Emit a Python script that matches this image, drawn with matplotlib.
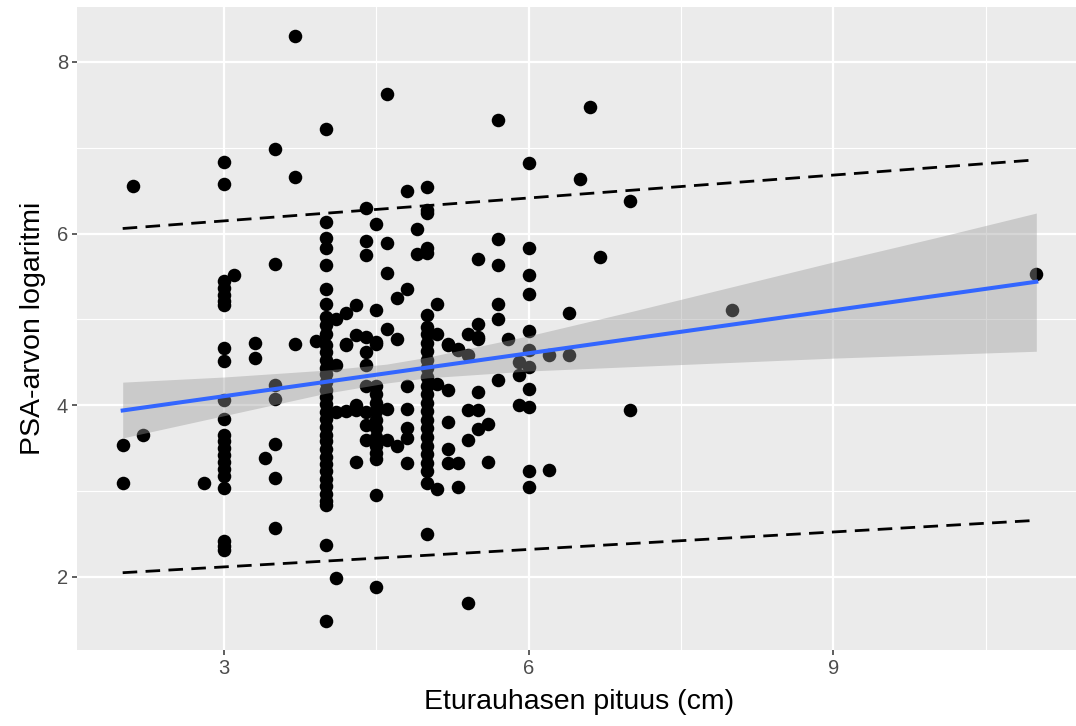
import numpy as np
import matplotlib
matplotlib.use('Agg')
import matplotlib.pyplot as plt
from matplotlib.ticker import FixedLocator

# eturauhasen pituus (cm) -> PSA-arvon logaritmi, grouped by x value
groups = {
    2.0: [3.54, 3.09],
    2.1: [6.56],
    2.2: [3.65],
    2.8: [3.10],
    3.0: [6.84, 6.58, 5.45, 5.37, 5.29, 5.21, 5.17, 4.67, 4.52, 4.06, 3.84,
          3.66, 3.58, 3.50, 3.42, 3.34, 3.26, 3.18, 3.04, 2.42, 2.36, 2.31],
    3.1: [5.52],
    3.3: [4.73, 4.55],
    3.4: [3.39],
    3.5: [6.99, 5.65, 4.24, 4.07, 3.55, 3.15, 2.57],
    3.7: [8.30, 6.66, 4.71],
    3.9: [4.75],
    4.0: [7.22, 6.13, 5.95, 5.83, 5.64, 5.35, 5.18, 5.03, 4.93, 4.83, 4.70,
          4.62, 4.53, 4.44, 4.36, 4.27, 4.18, 4.10, 4.01, 3.92, 3.84, 3.75,
          3.66, 3.58, 3.49, 3.40, 3.32, 3.23, 3.14, 3.06, 2.97, 2.89, 2.84,
          2.37, 1.49],
    4.1: [5.00, 4.47, 3.92, 1.99],
    4.2: [5.08, 4.72, 4.70, 3.93],
    4.3: [5.17, 4.82, 4.00, 3.95, 3.34],
    4.4: [6.30, 5.91, 5.75, 4.80, 4.62, 4.47, 4.23, 3.92, 3.77, 3.60],
    4.5: [6.11, 5.11, 4.74, 4.72, 4.23, 4.13, 4.03, 3.93, 3.83, 3.73, 3.63,
          3.53, 3.45, 3.37, 2.95, 1.88],
    4.6: [7.63, 5.89, 5.54, 4.89, 3.96, 3.60],
    4.7: [5.25, 4.77, 3.53],
    4.8: [6.50, 5.35, 4.23, 3.96, 3.74, 3.62, 3.33],
    4.9: [6.05, 5.76],
    5.0: [6.54, 6.28, 6.24, 5.83, 5.78, 5.05, 4.91, 4.83, 4.73, 4.63, 4.53,
          4.43, 4.33, 4.23, 4.13, 4.03, 3.93, 3.83, 3.73, 3.63, 3.53, 3.43,
          3.33, 3.23, 3.10, 2.50],
    5.1: [5.18, 4.83, 4.25, 3.02],
    5.2: [4.72, 4.70, 4.18, 3.80, 3.49, 3.33],
    5.3: [4.66, 4.64, 3.33, 3.05],
    5.4: [4.83, 4.59, 3.94, 3.60, 1.70],
    5.5: [5.71, 4.95, 4.80, 4.77, 4.15, 3.94, 3.72],
    5.6: [3.78, 3.34],
    5.7: [7.32, 5.94, 5.63, 5.18, 5.00, 4.29],
    5.8: [4.77],
    5.9: [4.50, 4.35, 4.00],
    6.0: [6.82, 5.83, 5.52, 5.30, 4.87, 4.64, 4.45, 4.19, 3.98, 3.24, 3.05],
    6.2: [4.59, 3.25],
    6.4: [5.08, 4.59],
    6.5: [6.64],
    6.6: [7.48],
    6.7: [5.73],
    7.0: [6.38, 3.94],
    8.0: [5.11],
    11.0: [5.53],
}

# regression line and its confidence band
fit_x = [2.0, 11.0]
fit_y = [3.94, 5.44]
band_x = [2.0, 3.0, 4.0, 4.6, 5.0, 6.0, 7.0, 8.0, 9.0, 10.0, 11.0]
band_lo = [3.62, 3.88, 4.14, 4.26, 4.32, 4.40, 4.45, 4.50, 4.55, 4.59, 4.63]
band_hi = [4.27, 4.33, 4.41, 4.48, 4.56, 4.81, 5.09, 5.38, 5.67, 5.95, 6.24]

# dashed limits
limit_x = [2.0, 11.0]
limit_upper = [6.06, 6.86]
limit_lower = [2.05, 2.66]

x = np.array([k for k, v in groups.items() for _ in v])
y = np.array([val for v in groups.values() for val in v])

plt.rcParams['font.family'] = ['Liberation Sans', 'DejaVu Sans']
plt.rcParams['lines.scale_dashes'] = False

fig = plt.figure(figsize=(10.76, 7.26), dpi=100)
W, H = 1076, 726
ax = fig.add_axes([77 / W, (H - 650) / H, 1005 / W, 643 / H])
ax.set_facecolor('#EBEBEB')

xr = x.max() - x.min()
yr = y.max() - y.min()
ax.set_xlim(x.min() - 0.05 * xr, x.max() + 0.05 * xr)
ax.set_ylim(y.min() - 0.05 * yr, y.max() + 0.05 * yr)

ax.xaxis.set_major_locator(FixedLocator([3, 6, 9]))
ax.xaxis.set_minor_locator(FixedLocator([1.5, 4.5, 7.5, 10.5]))
ax.yaxis.set_major_locator(FixedLocator([2, 4, 6, 8]))
ax.yaxis.set_minor_locator(FixedLocator([1, 3, 5, 7]))
ax.grid(which='major', color='white', lw=1.6)
ax.grid(which='minor', color='white', lw=0.8)
ax.set_axisbelow(True)
for sp in ax.spines.values():
    sp.set_visible(False)

ax.tick_params(which='major', length=3.5, width=1.1, color='#333333',
               labelsize=14.5, labelcolor='#4D4D4D', pad=3)
ax.tick_params(which='minor', length=0)

ax.scatter(x, y, s=95, color='black', linewidths=0, zorder=2)

ax.fill_between(band_x, band_lo, band_hi, color='#999999', alpha=0.4,
                linewidth=0, zorder=3)
ax.plot(fit_x, fit_y, color='#3366FF', lw=2.9, zorder=4)

for ys in (limit_upper, limit_lower):
    ax.plot(limit_x, ys, color='black', lw=2.0, dashes=(10.5, 6), zorder=4)

ax.set_xlabel('Eturauhasen pituus (cm)', fontsize=20.5, labelpad=8)
ax.set_ylabel('PSA-arvon logaritmi', fontsize=20.5, labelpad=8)

fig.savefig('out.png', dpi=100)
